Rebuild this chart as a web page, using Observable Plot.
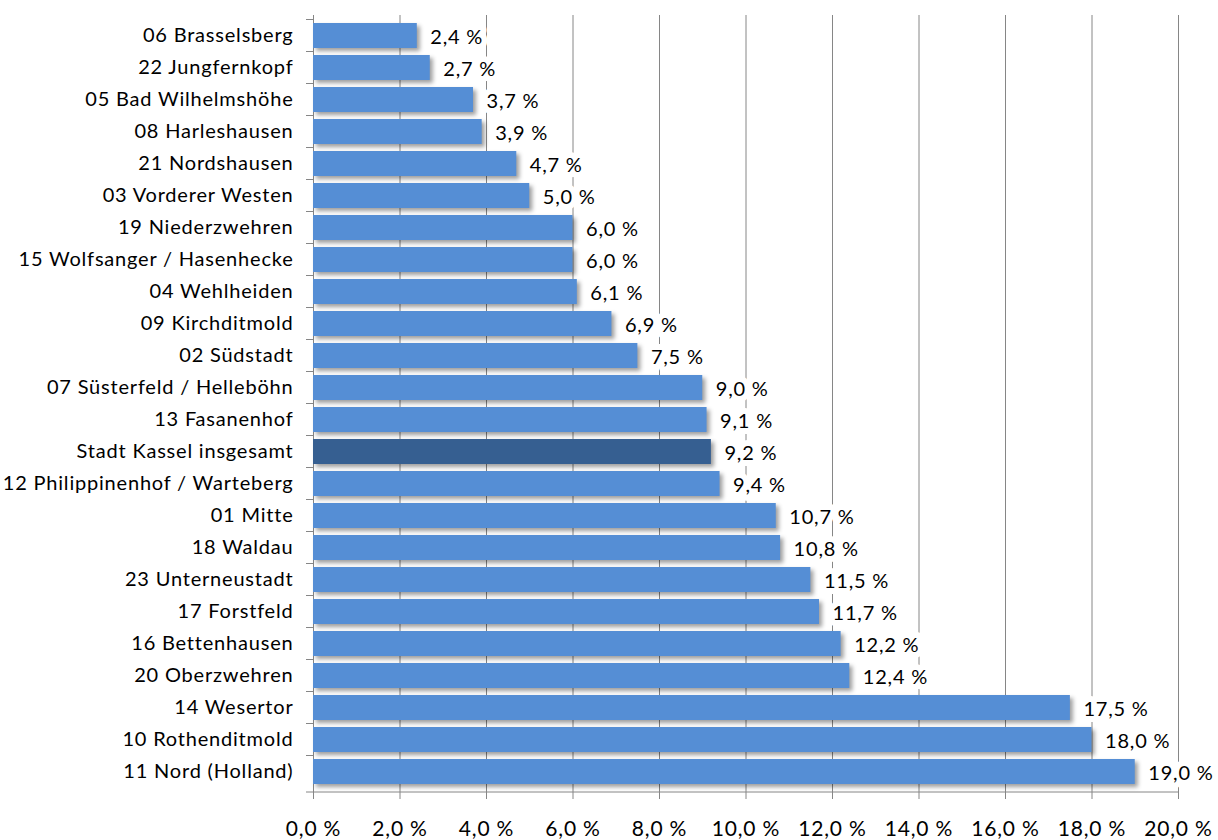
<!DOCTYPE html>
<html>
<head>
<meta charset="utf-8">
<script src="https://cdn.jsdelivr.net/npm/d3@7"></script>
<script src="https://cdn.jsdelivr.net/npm/@observablehq/plot@0.6"></script>
<style>
  html, body { margin: 0; padding: 0; background: #fff; }
  #chart svg { display: block; }
  #chart svg text { letter-spacing: 0.8px; }
</style>
</head>
<body>
<div id="chart"></div>
<script>
const categories = [
  "06 Brasselsberg", "22 Jungfernkopf", "05 Bad Wilhelmshöhe", "08 Harleshausen",
  "21 Nordshausen", "03 Vorderer Westen", "19 Niederzwehren", "15 Wolfsanger / Hasenhecke",
  "04 Wehlheiden", "09 Kirchditmold", "02 Südstadt", "07 Süsterfeld / Helleböhn",
  "13 Fasanenhof", "Stadt Kassel insgesamt", "12 Philippinenhof / Warteberg", "01 Mitte",
  "18 Waldau", "23 Unterneustadt", "17 Forstfeld", "16 Bettenhausen",
  "20 Oberzwehren", "14 Wesertor", "10 Rothenditmold", "11 Nord (Holland)"
];
const values = [
  2.4, 2.7, 3.7, 3.9,
  4.7, 5.0, 6.0, 6.0,
  6.1, 6.9, 7.5, 9.0,
  9.1, 9.2, 9.4, 10.7,
  10.8, 11.5, 11.7, 12.2,
  12.4, 17.5, 18.0, 19.0
];
const highlight = "Stadt Kassel insgesamt";
const xTicks = [0, 2, 4, 6, 8, 10, 12, 14, 16, 18, 20];

const data = categories.map((c, i) => ({cat: c, value: values[i]}));
const fmt = v => v.toFixed(1).replace(".", ",") + " %";
const FONT = "Lato, 'Open Sans', sans-serif";

const W = 1218, H = 840, ML = 313, MR = 40, MT = 15, MB = 48;

const plot = Plot.plot({
  width: W, height: H,
  marginLeft: ML, marginRight: MR, marginTop: MT, marginBottom: MB,
  style: {fontFamily: FONT, color: "#000", background: "#fff"},
  x: {domain: [0, 20]},
  y: {domain: categories, padding: 0.22},
  marks: [
    Plot.gridX(xTicks, {stroke: "#868686", strokeOpacity: 1, strokeWidth: 1}),
    Plot.ruleX([0], {stroke: "#868686"}),
    Plot.barX(data, {
      y: "cat", x: "value",
      fill: d => d.cat === highlight ? "#365f91" : "#558ed5"
    }),
    Plot.text(data, {
      y: "cat", x: "value", text: d => fmt(d.value),
      textAnchor: "start", dx: 13, dy: 2,
      fill: "#000", stroke: "#fff", strokeWidth: 12, paintOrder: "stroke",
      fontSize: 20
    }),
    Plot.axisY({tickSize: 0, tickPadding: 20, fontSize: 20, label: null}),
    Plot.axisX(xTicks, {tickFormat: fmt, tickSize: 7, tickPadding: 22, fontSize: 21, stroke: "#868686", label: null})
  ]
});

// bar shadows
plot.querySelectorAll('g[aria-label="bar"] rect').forEach(r => {
  r.style.filter = "drop-shadow(3px 3px 2px rgba(0,0,0,0.38))";
});
// axis tick labels black
plot.querySelectorAll('g[aria-label="x-axis tick label"] text, g[aria-label="y-axis tick label"] text')
  .forEach(t => t.setAttribute("fill", "#000"));

// bottom axis line and boundary ticks on the category axis
const xs = plot.scale("x"), ys = plot.scale("y");
const svg = d3.select(plot);
const yBottom = H - MB;
svg.append("line")
  .attr("x1", xs.apply(0)).attr("x2", xs.apply(20))
  .attr("y1", yBottom).attr("y2", yBottom)
  .attr("stroke", "#868686");
const step = ys.step, half = (step - ys.bandwidth) / 2;
const bounds = categories.map(c => ys.apply(c) - half).concat([yBottom]);
svg.append("g").selectAll("line").data(bounds).join("line")
  .attr("x1", xs.apply(0) - 7).attr("x2", xs.apply(0))
  .attr("y1", d => d).attr("y2", d => d)
  .attr("stroke", "#868686");

document.getElementById("chart").appendChild(plot);
</script>
</body>
</html>
